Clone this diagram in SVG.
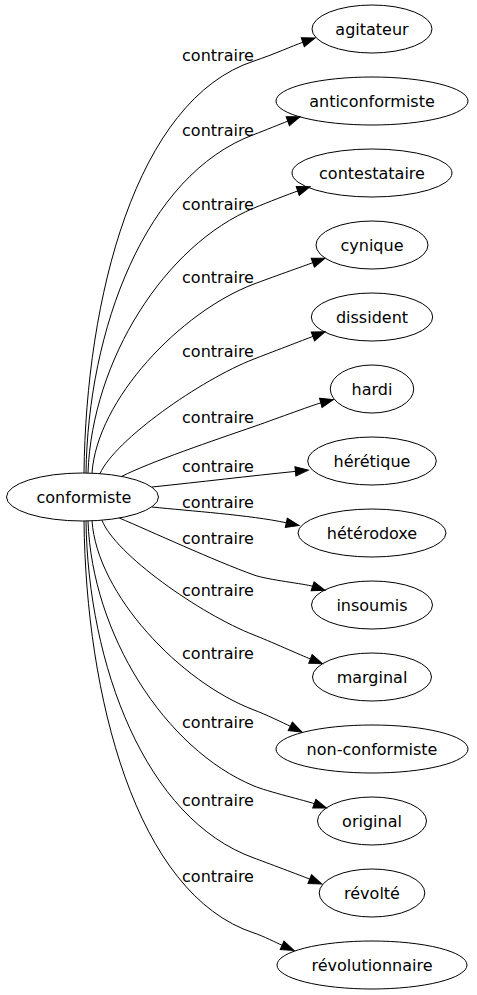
<svg xmlns="http://www.w3.org/2000/svg" width="477" height="995" viewBox="0 0 477 995">
<style>
.n ellipse{fill:none;stroke:#000;stroke-width:1}
text{font-family:"DejaVu Sans",sans-serif;font-size:16px;fill:#000;text-anchor:middle}
.e path{fill:none;stroke:#000;stroke-width:1;marker-end:url(#ah)}
</style>
<defs>
<marker id="ah" markerUnits="userSpaceOnUse" markerWidth="16" markerHeight="12" viewBox="0 0 16 12" refX="1" refY="6" orient="auto">
<path d="M1,1.3 L14,6 L1,10.7 z" fill="#000" stroke="#000" stroke-width="1"/>
</marker>
</defs>
<g id="edges" class="e">
<path d="M84,473 C86,300 135,100 254,61 C275,54 292,46 302.8,42.3"/>
<path d="M86,473 C88,330 145,175 254,134.5 C265.2,130.3 280.3,124 287.8,121.2"/>
<path d="M88,473 C92,360 165,245 254,208 C266.9,202.6 290.1,193.6 297.7,191"/>
<path d="M92,473 C97,400 180,312 254,284 C268,278.7 305.3,265.4 312.8,262.7"/>
<path d="M100,473.6 C115,440 200,380 254,359 C268,353.6 305.4,339.3 312.9,336.4"/>
<path d="M121.7,476.4 C150,462 215,440 254,426.5 C268,421.7 313,405 320.8,402.9"/>
<path d="M152,487 C200,482 250,476 295.4,471.4"/>
<path d="M152,507 C190,511 250,515 286.3,522.8"/>
<path d="M119.3,518 C150,531 215,561 254,575 C268,580 305,583.8 312.6,586.3"/>
<path d="M102,520.3 C115,554 200,614 254,635 C268,640.4 303,656.1 310.4,659"/>
<path d="M92,520.8 C97,594 180,682 254,710 C265.2,714.2 284,723.2 290.3,726.3"/>
<path d="M88,521 C92,634 165,749 254,786 C266.9,791.4 306.8,801 314.3,803.7"/>
<path d="M86,521 C88,664 145,819 254,858 C265.2,862.2 302.3,876.1 309.7,879.1"/>
<path d="M84,521 C86,694 135,894 254,933 C263.5,936.1 276.6,942.9 282.1,945.3"/>
</g>
<g id="edge-labels">
<text x="218" y="60.5">contraire</text>
<text x="218" y="136">contraire</text>
<text x="218" y="210">contraire</text>
<text x="218" y="283">contraire</text>
<text x="218" y="357">contraire</text>
<text x="218" y="422.7">contraire</text>
<text x="218" y="472">contraire</text>
<text x="218" y="508">contraire</text>
<text x="218" y="544">contraire</text>
<text x="218" y="596">contraire</text>
<text x="218" y="659">contraire</text>
<text x="218" y="728">contraire</text>
<text x="218" y="806">contraire</text>
<text x="218" y="882">contraire</text>
</g>
<g id="conformiste" class="n"><ellipse cx="82.5" cy="497" rx="76" ry="24"/><text x="84" y="503">conformiste</text></g>
<g id="agitateur" class="n"><ellipse cx="372" cy="29" rx="60" ry="24"/><text x="372" y="35">agitateur</text></g>
<g id="anticonformiste" class="n"><ellipse cx="372" cy="101" rx="96" ry="24"/><text x="372" y="107">anticonformiste</text></g>
<g id="contestataire" class="n"><ellipse cx="372" cy="173" rx="80" ry="24"/><text x="372" y="179">contestataire</text></g>
<g id="cynique" class="n"><ellipse cx="372" cy="245" rx="56" ry="24"/><text x="372" y="251">cynique</text></g>
<g id="dissident" class="n"><ellipse cx="372" cy="317" rx="60.7" ry="24"/><text x="372" y="323">dissident</text></g>
<g id="hardi" class="n"><ellipse cx="372" cy="389" rx="41.7" ry="24"/><text x="372" y="395">hardi</text></g>
<g id="heretique" class="n"><ellipse cx="372" cy="461" rx="64.3" ry="24"/><text x="372" y="467">hérétique</text></g>
<g id="heterodoxe" class="n"><ellipse cx="372" cy="533" rx="74" ry="24"/><text x="372" y="539">hétérodoxe</text></g>
<g id="insoumis" class="n"><ellipse cx="372" cy="605" rx="60.5" ry="24"/><text x="372" y="611">insoumis</text></g>
<g id="marginal" class="n"><ellipse cx="372" cy="677" rx="59.5" ry="24"/><text x="372" y="683">marginal</text></g>
<g id="non-conformiste" class="n"><ellipse cx="372" cy="749" rx="96" ry="24"/><text x="372" y="755">non-conformiste</text></g>
<g id="original" class="n"><ellipse cx="372" cy="821" rx="54.5" ry="24"/><text x="372" y="827">original</text></g>
<g id="revolte" class="n"><ellipse cx="372" cy="893" rx="52.8" ry="24"/><text x="372" y="899">révolté</text></g>
<g id="revolutionnaire" class="n"><ellipse cx="372" cy="965" rx="95" ry="24"/><text x="372" y="971">révolutionnaire</text></g>
</svg>
